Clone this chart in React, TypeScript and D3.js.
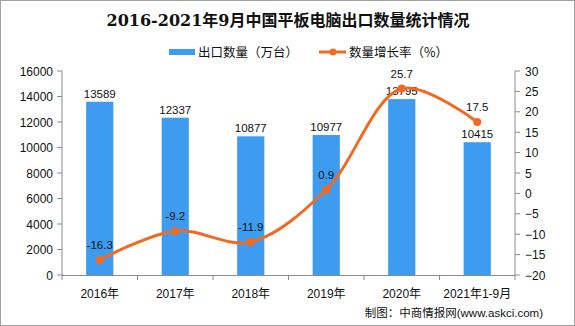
import React from "react";
import * as d3 from "d3";

const categories = ["2016年", "2017年", "2018年", "2019年", "2020年", "2021年1-9月"];
const exportQty = [13589, 12337, 10877, 10977, 13795, 10415];
const growthRate = [-16.3, -9.2, -11.9, 0.9, 25.7, 17.5];
const leftTicks = [0, 2000, 4000, 6000, 8000, 10000, 12000, 14000, 16000];
const rightTicks = [-20, -15, -10, -5, 0, 5, 10, 15, 20, 25, 30];

const W = 575, H = 326;
const left = 62, right = 515, top = 71, bottom = 275;
const BAR = "#3d9cf0";
const LINE = "#f26a21";
const AXIS = "#8c8c8c";
const FONT = "'Liberation Sans', 'Noto Sans CJK SC', sans-serif";
const CJK = "'Noto Sans CJK SC', sans-serif";

export default function App() {
  const x = d3.scaleBand<string>().domain(categories).range([left, right]).paddingInner(0.64).paddingOuter(0.32);
  const xc = (c: string) => (x(c) as number) + x.bandwidth() / 2;
  const step = (right - left) / categories.length;
  const yL = d3.scaleLinear().domain([0, 16000]).range([bottom, top]);
  const yR = d3.scaleLinear().domain([-20, 30]).range([bottom, top]);
  const line = d3.line<number>()
    .x((_, i) => xc(categories[i]))
    .y((d) => yR(d))
    .curve(d3.curveCatmullRom.alpha(0.5));
  const path = line(growthRate) || "";

  return (
    <svg width={W} height={H} style={{ position: "absolute", left: 0, top: 0, background: "#fff" }}>
      <rect x={0.5} y={0.5} width={W - 1} height={H - 1} fill="#fff" stroke="#a0a0a0" />
      <text x={288} y={26} textAnchor="middle" fontSize={16} fontWeight="bold" fontFamily="'DejaVu Serif', 'Noto Sans CJK SC', serif" fill="#111">
        2016-2021年9月中国平板电脑出口数量统计情况
      </text>
      {/* legend */}
      <rect x={169} y={49} width={26} height={6} fill={BAR} />
      <text x={198} y={57} fontSize={12.5} fontFamily={CJK} fill="#111">出口数量（万台）</text>
      <line x1={319} x2={346} y1={52} y2={52} stroke={LINE} strokeWidth={3} />
      <circle cx={333} cy={52} r={3.5} fill={LINE} />
      <text x={349} y={57} fontSize={12.5} fontFamily={CJK} fill="#111">数量增长率（%）</text>

      {/* axes */}
      <line x1={left} x2={left} y1={top} y2={bottom} stroke={AXIS} />
      <line x1={right} x2={right} y1={top} y2={bottom} stroke={AXIS} />
      <line x1={left} x2={right} y1={bottom + 0.5} y2={bottom + 0.5} stroke={AXIS} />
      {leftTicks.map((t) => (
        <g key={"l" + t}>
          <line x1={left - 5} x2={left} y1={yL(t)} y2={yL(t)} stroke={AXIS} />
          <text x={left - 9} y={yL(t) + 4.5} textAnchor="end" fontSize={12} fontFamily={FONT} fill="#111">{t}</text>
        </g>
      ))}
      {rightTicks.map((t) => (
        <g key={"r" + t}>
          <line x1={right} x2={right + 5} y1={yR(t)} y2={yR(t)} stroke={AXIS} />
          <text x={right + 10} y={yR(t) + 4.5} textAnchor="start" fontSize={12} fontFamily={FONT} fill="#111">{t < 0 ? "\u2212" + Math.abs(t) : t}</text>
        </g>
      ))}
      {d3.range(categories.length + 1).map((i) => (
        <line key={"xt" + i} x1={left + i * step} x2={left + i * step} y1={bottom} y2={bottom + 5} stroke={AXIS} />
      ))}
      {categories.map((c) => (
        <text key={"xl" + c} x={xc(c)} y={298} textAnchor="middle" fontSize={12} fontFamily={FONT} fill="#111">{c}</text>
      ))}

      {/* bars */}
      {exportQty.map((v, i) => (
        <g key={"b" + i}>
          <rect x={x(categories[i])} y={yL(v)} width={x.bandwidth()} height={bottom - yL(v)} fill={BAR} />
          <text x={xc(categories[i])} y={yL(v) - 4} textAnchor="middle" fontSize={11.5} fontFamily={FONT} fill="#111">{v}</text>
        </g>
      ))}

      {/* line */}
      <path d={path} fill="none" stroke={LINE} strokeWidth={3} />
      {growthRate.map((v, i) => (
        <g key={"p" + i}>
          <circle cx={xc(categories[i])} cy={yR(v)} r={4} fill={LINE} />
          <text x={xc(categories[i])} y={yR(v) - 11} textAnchor="middle" fontSize={11.5} fontFamily={FONT} fill="#111">{v}</text>
        </g>
      ))}

      <text x={543} y={317} textAnchor="end" fontSize={11.5} fontFamily={CJK} fill="#111">
        制图：中商情报网<tspan fontFamily={FONT}>(www.askci.com)</tspan>
      </text>
    </svg>
  );
}
